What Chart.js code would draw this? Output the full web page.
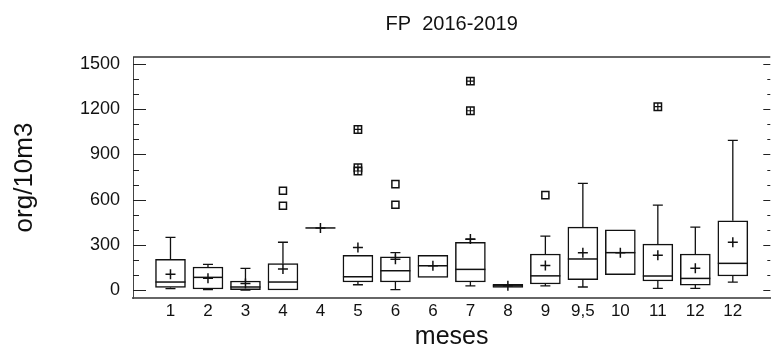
<!DOCTYPE html>
<html>
<head>
<meta charset="utf-8">
<title>FP 2016-2019</title>
<script src="https://cdn.jsdelivr.net/npm/chart.js@4.4.1/dist/chart.umd.min.js"></script>
<style>
  body { margin: 0; background: #fff; }
  #wrap { width: 777px; height: 356px; }
</style>
</head>
<body>
<div id="wrap"><canvas id="cajas" width="777" height="356"></canvas></div>
<script>
// etiquetas del eje x (meses de muestreo)
const meses = ['1', '2', '3', '4', '4', '5', '6', '6', '7', '8', '9', '9,5', '10', '11', '12', '12'];

// estadisticos de cada caja (org/10m3)
const minimos = [9, 2, 0, 0, 412, 35, 2, 84, 27, 18, 27, 20, 102, 11, 11, 53];
const q1 = [17, 7, 2, 0, 412, 53, 53, 84, 53, 18, 40, 69, 102, 60, 33, 93];
const medianas = [53, 84, 20, 53, 412, 88, 128, 161, 137, 28, 94, 206, 248, 93, 77, 177];
const q3 = [204, 153, 60, 175, 412, 230, 221, 230, 317, 38, 239, 418, 400, 305, 239, 460];
const maximos = [350, 170, 144, 317, 412, 230, 248, 230, 336, 38, 358, 708, 400, 564, 418, 993];
const medias = [104, 78, 44, 139, 412, 283, 204, 161, 339, 28, 162, 248, 248, 230, 144, 317];

// valores atipicos por caja: simples y superpuestos
const atipicos = [[], [], [], [659, 560], [], [], [703, 566], [], [], [], [630], [], [], [], [], []];
const atipicosDobles = [[], [], [], [], [], [1066, 812, 790], [], [], [1387, 1190], [], [], [], [], [1217], [], []];

// ticks del eje y
const ticksY = [0, 100, 200, 300, 400, 500, 600, 700, 800, 900, 1000, 1100, 1200, 1300, 1400, 1500];

const tinta = '#111';
const fuente = '"Liberation Sans", Arial, sans-serif';

function puntos(lista) {
  const out = [];
  lista.forEach((vals, i) => vals.forEach(v => out.push({ x: i + 1, y: v })));
  return out;
}

// bigotes, medianas, marco superior y ticks hacia dentro
const cajasPlugin = {
  id: 'cajasPlugin',
  beforeDatasetsDraw(chart) {
    const { ctx, scales: { x, y } } = chart;
    ctx.save();
    ctx.strokeStyle = tinta;
    ctx.lineWidth = 1.3;
    meses.forEach((m, i) => {
      const px = x.getPixelForValue(i + 1);
      [[q3[i], maximos[i]], [q1[i], minimos[i]]].forEach(([desde, hasta]) => {
        if (desde === hasta) return;
        const y0 = y.getPixelForValue(desde);
        const y1 = y.getPixelForValue(hasta);
        ctx.beginPath();
        ctx.moveTo(px, y0);
        ctx.lineTo(px, y1);
        ctx.moveTo(px - 5, y1);
        ctx.lineTo(px + 5, y1);
        ctx.stroke();
      });
    });
    ctx.restore();
  },
  afterDatasetsDraw(chart) {
    const { ctx, scales: { y } } = chart;
    const barras = chart.getDatasetMeta(0).data;
    ctx.save();
    ctx.strokeStyle = tinta;
    ctx.lineWidth = 1.5;
    barras.forEach((bar, i) => {
      const py = y.getPixelForValue(medianas[i]);
      ctx.beginPath();
      ctx.moveTo(bar.x - bar.width / 2, py);
      ctx.lineTo(bar.x + bar.width / 2, py);
      ctx.stroke();
    });
    ctx.restore();
  },
  afterDraw(chart) {
    const { ctx, chartArea: a, scales: { y } } = chart;
    ctx.save();
    // marco superior
    ctx.strokeStyle = '#333';
    ctx.lineWidth = 1.5;
    ctx.beginPath();
    ctx.moveTo(a.left, a.top);
    ctx.lineTo(a.right, a.top);
    ctx.stroke();
    // ticks mayores y menores
    ctx.strokeStyle = '#222';
    ctx.lineWidth = 1.2;
    ticksY.forEach(v => {
      const py = Math.round(y.getPixelForValue(v)) + 0.5;
      const mayor = v % 300 === 0;
      ctx.beginPath();
      ctx.moveTo(a.left, py);
      ctx.lineTo(a.left + (mayor ? 13 : 6), py);
      ctx.moveTo(a.right, py);
      ctx.lineTo(a.right - (mayor ? 7 : 3), py);
      ctx.stroke();
    });
    // titulo
    ctx.fillStyle = tinta;
    ctx.font = '20px ' + fuente;
    ctx.textAlign = 'center';
    ctx.textBaseline = 'alphabetic';
    ctx.fillText('FP  2016-2019', (a.left + a.right) / 2, 30);
    ctx.restore();
  }
};

const ctx = document.getElementById('cajas').getContext('2d');
new Chart(ctx, {
  type: 'bar',
  data: {
    datasets: [
      {
        label: 'cajas',
        data: meses.map((m, i) => ({ x: i + 1, y: [q1[i], q3[i]] })),
        backgroundColor: '#fff',
        borderColor: tinta,
        borderWidth: 1.5,
        borderSkipped: false,
        barThickness: 30,
        order: 3
      },
      {
        type: 'scatter',
        label: 'media',
        data: medias.map((v, i) => ({ x: i + 1, y: v })),
        pointStyle: 'cross',
        pointRadius: 5,
        borderColor: tinta,
        borderWidth: 1.5,
        order: 1
      },
      {
        type: 'scatter',
        label: 'atipicos',
        data: puntos(atipicos),
        pointStyle: 'rect',
        pointRadius: 5,
        backgroundColor: '#fff',
        borderColor: tinta,
        borderWidth: 1.5,
        order: 1
      },
      {
        type: 'scatter',
        label: 'atipicos superpuestos',
        data: puntos(atipicosDobles),
        pointStyle: 'rect',
        pointRadius: 5.2,
        backgroundColor: '#fff',
        borderColor: tinta,
        borderWidth: 1.5,
        order: 2
      },
      {
        type: 'scatter',
        label: 'cruz atipicos',
        data: puntos(atipicosDobles),
        pointStyle: 'cross',
        pointRadius: 3.6,
        borderColor: tinta,
        borderWidth: 1.2,
        order: 1
      }
    ]
  },
  options: {
    responsive: false,
    devicePixelRatio: 1,
    animation: false,
    layout: { padding: { top: 57, right: 0, bottom: 0, left: 0 } },
    plugins: {
      legend: { display: false },
      tooltip: { enabled: false },
      title: { display: false }
    },
    scales: {
      x: {
        type: 'linear',
        min: 0,
        max: 17,
        offset: false,
        grid: { display: false, drawTicks: false, offset: false },
        border: { display: true, color: '#666', width: 2 },
        afterFit: s => { s.height = 58; },
        afterBuildTicks: s => {
          s.ticks = meses.map((m, i) => ({ value: i + 1 }));
        },
        ticks: {
          autoSkip: false,
          maxRotation: 0,
          padding: 3,
          color: tinta,
          font: { family: fuente, size: 17 },
          callback: v => meses[v - 1] || ''
        },
        title: {
          display: true,
          text: 'meses',
          color: tinta,
          font: { family: fuente, size: 25 },
          padding: { top: 0, bottom: 4 }
        }
      },
      y: {
        min: -53,
        max: 1547,
        grid: { display: false, drawTicks: false },
        border: { display: true, color: '#444', width: 1 },
        afterFit: s => { s.width = 133; },
        afterBuildTicks: s => {
          s.ticks = ticksY.map(v => ({ value: v }));
        },
        ticks: {
          autoSkip: false,
          padding: 13,
          color: tinta,
          font: { family: fuente, size: 18 },
          callback: v => (v % 300 === 0 ? String(v) : '')
        },
        title: {
          display: true,
          text: 'org/10m3',
          color: tinta,
          font: { family: fuente, size: 26 },
          padding: { top: 9, bottom: 0 }
        }
      }
    }
  },
  plugins: [cajasPlugin]
});
</script>
</body>
</html>
